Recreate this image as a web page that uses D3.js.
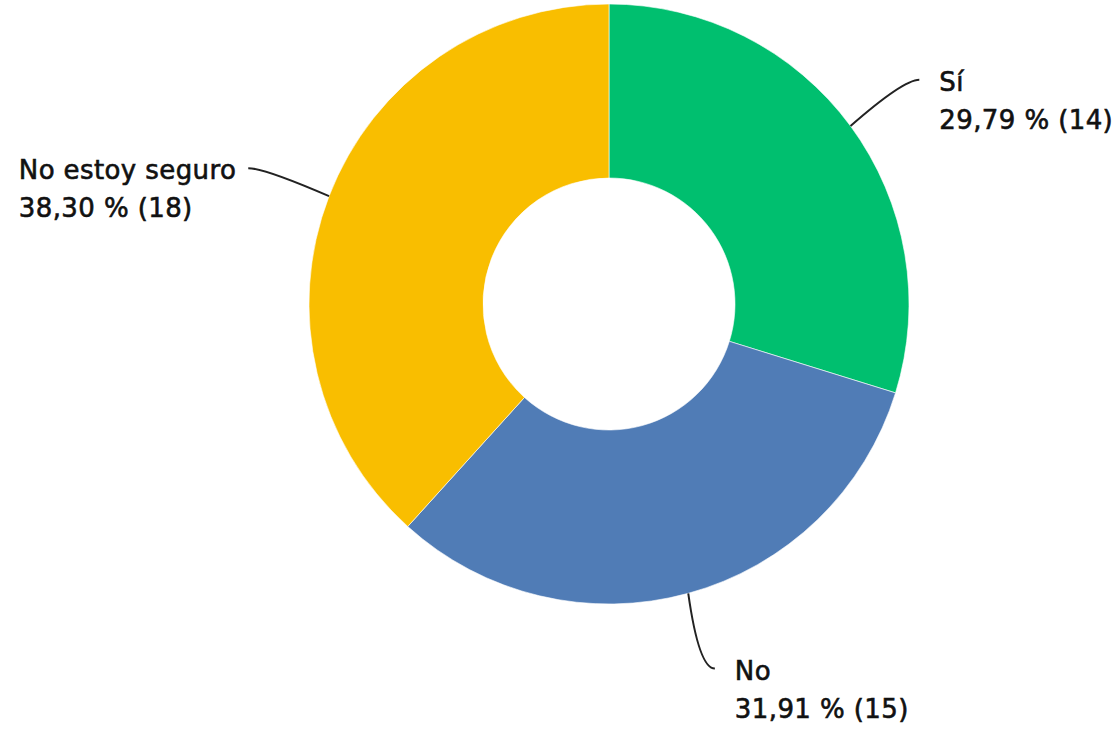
<!DOCTYPE html>
<html>
<head>
<meta charset="utf-8">
<script src="https://cdn.jsdelivr.net/npm/d3@7"></script>
<style>
  body { margin: 0; background: #fff; }
  text { font-family: "DejaVu Sans", sans-serif; font-size: 26px; fill: #111;
         stroke: #111; stroke-width: 0.6px; letter-spacing: 0.4px; }
</style>
</head>
<body>
<div id="chart"></div>
<script>
// data
var labels = ["Sí", "No", "No estoy seguro"];
var counts = [14, 15, 18];
var percents = ["29,79 %", "31,91 %", "38,30 %"];
var colors = ["#00bf6f", "#507cb6", "#f9be00"];

var width = 1112, height = 729;
var cx = 609, cy = 304;
var outerR = 300, innerR = 126;

var svg = d3.select("#chart")
  .append("svg")
    .attr("width", width)
    .attr("height", height);

var g = svg.append("g")
    .attr("transform", "translate(" + cx + "," + cy + ")");

var pie = d3.pie().sort(null).value(function(d) { return d; });
var arcs = pie(counts);

var arc = d3.arc().innerRadius(innerR).outerRadius(outerR);

g.selectAll("path.slice")
  .data(arcs)
  .enter()
  .append("path")
    .attr("class", "slice")
    .attr("d", arc)
    .style("fill", function(d, i) { return colors[i]; })
    .style("stroke", "#fff")
    .style("stroke-width", 0.6);

// leader lines + labels
function polar(r, a) { return [r * Math.sin(a), -r * Math.cos(a)]; }

arcs.forEach(function(d, i) {
  var mid = (d.startAngle + d.endAngle) / 2;
  var right = Math.sin(mid) >= 0;
  var s = polar(outerR, mid);
  var e = polar(378, mid);
  e[0] += right ? 6 : -8;
  var c = [e[0] + (right ? -16 : 16), e[1]];

  var p = d3.path();
  p.moveTo(s[0], s[1]);
  p.quadraticCurveTo(c[0], c[1], e[0], e[1]);
  g.append("path")
    .attr("d", p.toString())
    .style("fill", "none")
    .style("stroke", "#222")
    .style("stroke-width", 2);

  var lab = g.append("g");
  var t = lab.append("text");
  t.append("tspan").attr("x", 0).attr("y", 0).text(labels[i]);
  t.append("tspan").attr("x", 0).attr("y", 38).text(percents[i] + " (" + counts[i] + ")");
  var w = t.node().getBBox().width;
  var lx = right ? e[0] + 20 : e[0] - 12 - w;
  lab.attr("transform", "translate(" + lx + "," + (e[1] + 11) + ")");
});
</script>
</body>
</html>
